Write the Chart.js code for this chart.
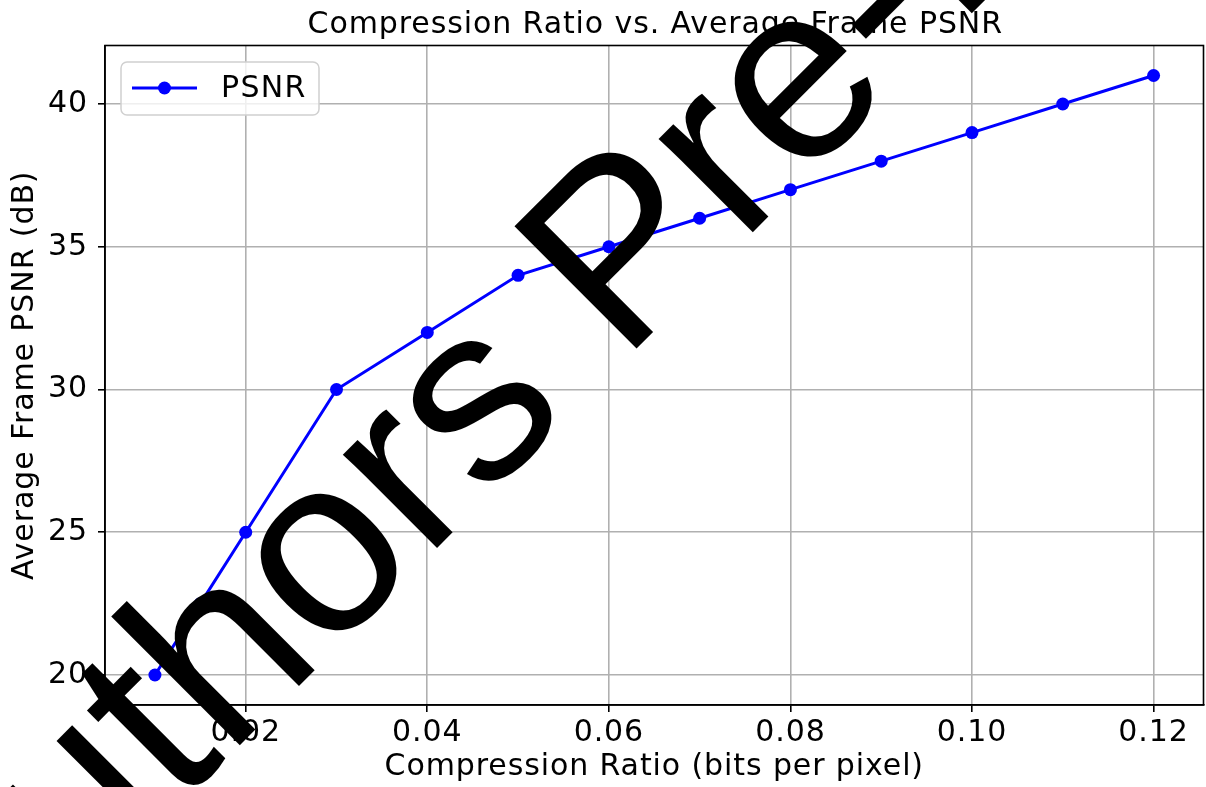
<!DOCTYPE html>
<html>
<head>
<meta charset="utf-8">
<script src="https://cdn.jsdelivr.net/npm/chart.js@4"></script>
<style>
html, body { margin: 0; padding: 0; overflow: hidden; background: #fff; }
#wrap { position: relative; width: 1210px; height: 787px; }
</style>
</head>
<body>
<div id="wrap"><canvas id="c"></canvas></div>
<script>
// ---- data ----
const bitsPerPixel = [0.01, 0.015, 0.02, 0.03, 0.04, 0.05, 0.06, 0.07, 0.08, 0.09, 0.10, 0.11, 0.12];
const psnrValues   = [20, 22.5, 25, 30, 32, 34, 35, 36, 37, 38, 39, 40, 41];
const xTickValues  = [0.02, 0.04, 0.06, 0.08, 0.10, 0.12];
const yTickValues  = [20, 25, 30, 35, 40];
const seriesLabel  = 'PSNR';
const chartTitle   = 'Compression Ratio vs. Average Frame PSNR';
const xAxisTitle   = 'Compression Ratio (bits per pixel)';
const yAxisTitle   = 'Average Frame PSNR (dB)';
const watermarkText = 'Authors Pre-Print';

const FONT = 'DejaVu Sans';
const WM_FONT = 'Liberation Sans';
const SPACING = '0.9px';
Chart.defaults.font.family = FONT;
Chart.defaults.color = '#000';

const framePlugin = {
  id: 'frame',
  beforeUpdate(chart) { chart.ctx.letterSpacing = SPACING; },
  beforeLayout(chart) { chart.ctx.letterSpacing = SPACING; },
  beforeDraw(chart) { chart.ctx.letterSpacing = SPACING; },
  afterDatasetsDraw(chart) {
    const {ctx, chartArea: a} = chart;
    ctx.save();
    ctx.strokeStyle = '#000';
    ctx.lineWidth = 1.6;
    ctx.strokeRect(a.left, a.top, a.right - a.left, a.bottom - a.top);
    // title, centred over the plot area
    ctx.fillStyle = '#000';
    ctx.font = '30px "' + FONT + '"';
    ctx.letterSpacing = SPACING;
    ctx.textAlign = 'center';
    ctx.textBaseline = 'alphabetic';
    ctx.fillText(chartTitle, (a.left + a.right) / 2 + 1, 33.3);
    // legend
    const ds = chart.data.datasets[0];
    const bx = 121, by = 62, bw = 198, bh = 53, r = 6;
    ctx.beginPath();
    ctx.roundRect(bx, by, bw, bh, r);
    ctx.fillStyle = 'rgba(255,255,255,0.8)';
    ctx.fill();
    ctx.strokeStyle = '#d0d0d0';
    ctx.lineWidth = 1.5;
    ctx.stroke();
    const ly = by + bh / 2 - 0.5;
    ctx.beginPath();
    ctx.moveTo(132, ly); ctx.lineTo(197, ly);
    ctx.strokeStyle = ds.borderColor; ctx.lineWidth = 3;
    ctx.stroke();
    ctx.beginPath();
    ctx.arc(164.5, ly, 6.5, 0, Math.PI * 2);
    ctx.fillStyle = ds.pointBackgroundColor; ctx.fill();
    ctx.fillStyle = '#000';
    ctx.font = '30px "' + FONT + '"';
    ctx.letterSpacing = '1.3px';
    ctx.textBaseline = 'middle';
    ctx.textAlign = 'left';
    ctx.fillText(ds.label, 221, ly + 1);
    ctx.restore();
  },
  afterDraw(chart) {
    const ctx = chart.ctx;
    ctx.save();
    ctx.letterSpacing = '0px';
    ctx.font = '251px "' + WM_FONT + '"';
    ctx.fillStyle = '#000';
    ctx.textBaseline = 'alphabetic';
    ctx.textAlign = 'left';
    const ang = -Math.PI / 4;
    const dx = Math.cos(ang), dy = Math.sin(ang);
    const pre = ctx.measureText('Authors ').width;
    const px = 622, py = 363;
    const ox = px - pre * dx, oy = py - pre * dy;
    ctx.translate(ox, oy);
    ctx.rotate(ang);
    ctx.fillText(watermarkText, 0, 0);
    ctx.restore();
  }
};

const points = bitsPerPixel.map((x, i) => ({x, y: psnrValues[i]}));

new Chart(document.getElementById('c'), {
  type: 'line',
  data: {
    datasets: [{
      label: seriesLabel,
      data: points,
      borderColor: '#0000ff',
      backgroundColor: '#0000ff',
      pointBackgroundColor: '#0000ff',
      pointBorderColor: '#0000ff',
      pointRadius: 6.5,
      pointBorderWidth: 0,
      borderWidth: 3,
      tension: 0,
      fill: false
    }]
  },
  options: {
    responsive: true,
    maintainAspectRatio: false,
    animation: false,
    events: [],
    layout: { padding: { top: 45.5, left: 0, right: 0, bottom: 0 } },
    plugins: {
      legend: { display: false },
      tooltip: { enabled: false },
      title: { display: false }
    },
    scales: {
      x: {
        type: 'linear',
        min: 0.0045,
        max: 0.1255,
        afterBuildTicks(s) { s.ticks = xTickValues.map(v => ({value: v})); },
        afterFit(s) { s.height = 82; },
        ticks: {
          font: { size: 30 },
          color: '#000',
          padding: 3.5,
          maxRotation: 0,
          autoSkip: false,
          callback: v => Number(v).toFixed(2)
        },
        grid: {
          color: '#b0b0b0',
          lineWidth: 1.6,
          tickColor: '#000',
          tickLength: 7,
          tickWidth: 1.6,
          drawTicks: true
        },
        border: { display: true, color: '#000', width: 1.6 },
        title: {
          display: true,
          text: xAxisTitle,
          font: { size: 30, lineHeight: 1.2 },
          color: '#000',
          padding: { top: 0, bottom: 1.5 }
        }
      },
      y: {
        type: 'linear',
        min: 18.95,
        max: 42.05,
        afterBuildTicks(s) { s.ticks = yTickValues.map(v => ({value: v})); },
        afterFit(s) { s.width = 105; },
        ticks: {
          font: { size: 30 },
          color: '#000',
          padding: 10,
          autoSkip: false,
          callback: v => String(v)
        },
        grid: {
          color: '#b0b0b0',
          lineWidth: 1.6,
          tickColor: '#000',
          tickLength: 7,
          tickWidth: 1.6,
          drawTicks: true
        },
        border: { display: true, color: '#000', width: 1.6 },
        title: {
          display: true,
          text: yAxisTitle,
          font: { size: 30, lineHeight: 1.2 },
          color: '#000',
          padding: { top: 7.5, bottom: 0 }
        }
      }
    }
  },
  plugins: [framePlugin]
});
</script>
</body>
</html>
